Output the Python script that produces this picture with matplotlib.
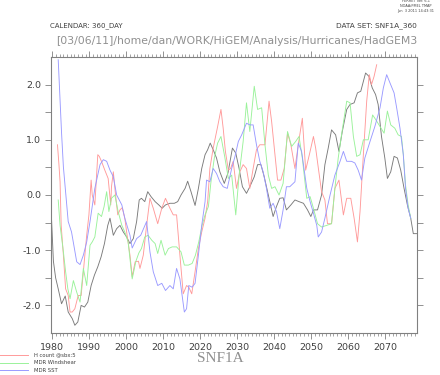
import numpy as np
import matplotlib
matplotlib.use("Agg")
import matplotlib.pyplot as plt

# values (year, index)
red_x = [1981.4, 1981.8, 1982.1, 1982.4, 1983.0, 1983.6, 1984.3, 1984.8, 1985.4, 1986.1,
         1987.0, 1987.8, 1988.4, 1988.8, 1989.3, 1989.9, 1990.5, 1990.8, 1991.5, 1992.3,
         1992.7, 1993.3, 1994.2, 1995.1, 1995.8, 1996.0, 1996.5, 1997.1, 1997.7, 1998.3,
         1998.9, 1999.6, 2000.1, 2001.0, 2001.6, 2002.4, 2003.3, 2003.7, 2004.6, 2005.5,
         2006.4, 2007.3, 2008.5, 2009.6, 2010.6, 2011.8, 2012.7, 2013.6, 2014.5, 2015.4,
         2016.3, 2016.9, 2017.7, 2018.6, 2019.5, 2020.4, 2021.3, 2022.0, 2022.6, 2023.5,
         2024.7, 2025.6, 2026.2, 2026.8, 2027.6, 2028.2, 2028.9, 2029.8, 2030.7, 2031.6,
         2032.5, 2033.4, 2034.3, 2035.2, 2036.1, 2037.5, 2038.6, 2039.3, 2040.2, 2040.9,
         2041.8, 2042.7, 2043.6, 2044.5, 2045.6, 2046.7, 2047.6, 2048.5, 2049.6, 2050.6,
         2051.2, 2051.9, 2052.8, 2053.7, 2054.4, 2055.5, 2056.4, 2057.5, 2058.7, 2059.6,
         2060.7, 2061.6, 2062.5, 2063.2, 2064.1, 2065.0, 2065.7, 2066.3, 2067.0, 2067.7]
red_y = [0.91, 0.55, 0.24, -0.55, -1.09, -1.70, -1.82, -2.12, -2.12, -2.06,
         -1.82, -1.82, -1.39, -1.09, -0.73, -0.36, 0.27, 0.00, -0.18, 0.73,
         0.70, 0.61, 0.45, 0.30, -0.18, 0.15, 0.42, 0.00, -0.36, -0.27,
         -0.23, -0.42, -0.67, -1.09, -1.48, -1.21, -1.20, -1.33, -1.09, -0.55,
         -0.06, -0.24, -0.52, -0.24, -0.06, -0.24, -0.36, -0.36, -1.09, -1.79,
         -1.64, -1.67, -1.79, -1.39, -0.97, -0.67, -0.42, -0.12, 0.48, 0.85,
         1.24, 1.55, 1.21, 0.79, 0.45, 0.48, 0.61, 0.12, 0.42, 0.55,
         0.48, 0.12, 0.48, 0.82, 0.91, 0.91, 1.70, 1.33, 0.73, 0.27,
         0.27, 0.48, 1.12, 0.91, 0.48, 1.00, 1.39, 0.45, 0.76, 1.06,
         0.85, 0.50, 0.06, -0.09, -0.52, -0.52, 0.12, 0.27, -0.36, -0.06,
         -0.06, -0.42, -0.85, -0.30, 0.73, 1.70, 2.18, 2.00, 2.15, 2.36]

green_x = [1981.6, 1982.1, 1983.0, 1983.6, 1984.2, 1984.8, 1985.7, 1986.6, 1987.5, 1988.4,
           1989.3, 1990.2, 1990.8, 1991.5, 1992.4, 1993.3, 1994.0, 1994.7, 1995.3, 1996.0,
           1996.9, 1997.8, 1998.8, 1999.6, 2000.5, 2001.6, 2002.6, 2003.4, 2004.1, 2005.0,
           2005.9, 2006.9, 2007.8, 2008.5, 2009.4, 2010.5, 2011.4, 2012.4, 2013.6, 2014.8,
           2015.7, 2016.8, 2017.8, 2018.7, 2019.6, 2020.5, 2021.3, 2022.2, 2022.9, 2023.8,
           2024.7, 2025.6, 2026.6, 2027.6, 2028.5, 2029.6, 2030.5, 2031.6, 2032.5, 2033.4,
           2034.6, 2035.5, 2036.6, 2037.5, 2038.4, 2039.3, 2040.2, 2041.3, 2042.4, 2043.6,
           2044.7, 2045.8, 2046.7, 2047.6, 2048.8, 2049.7, 2050.6, 2051.7, 2052.8, 2054.2,
           2055.5, 2056.4, 2057.3, 2058.2, 2059.6, 2060.5, 2061.4, 2062.3, 2063.2, 2064.1,
           2065.4, 2066.6, 2067.5, 2068.6, 2069.7, 2070.6, 2071.5, 2072.6, 2073.5, 2074.4,
           2074.9, 2075.5, 2076.2, 2076.9]
green_y = [-0.09, -0.55, -1.03, -1.39, -1.70, -1.88, -1.55, -1.76, -1.94, -1.33,
           -1.64, -0.91, -0.85, -0.76, -0.33, -0.39, -0.21, 0.06, -0.30, -0.06,
           0.00, -0.30, -0.55, -0.67, -0.85, -1.52, -1.20, -1.05, -0.97, -0.76,
           -0.73, -0.82, -0.88, -1.06, -0.82, -1.09, -0.97, -0.94, -0.94, -1.03,
           -1.27, -1.27, -1.24, -1.09, -0.85, -0.55, -0.36, -0.21, 0.24, 0.67,
           0.94, 1.06, 0.70, 0.30, 0.36, -0.36, 0.36, 0.97, 1.67, 1.15,
           1.97, 1.55, 1.58, 0.91, 0.36, 0.12, 0.15, 0.00, 0.21, 1.15,
           0.88, 0.97, 1.06, 0.67, -0.06, -0.03, -0.24, -0.52, -0.58, -0.55,
           -0.52, 0.12, 0.67, 1.09, 1.70, 1.67, 1.06, 0.70, 0.73, 1.00,
           1.00, 1.45, 1.36, 1.24, 1.12, 1.52, 1.27, 1.21, 1.09, 1.06,
           0.73, 0.18, -0.18, -0.42]

blue_x = [1981.6, 1982.5, 1983.0, 1984.3, 1985.2, 1986.6, 1987.5, 1988.4, 1989.3, 1990.2,
          1991.5, 1992.9, 1993.8, 1994.7, 1995.6, 1996.5, 1997.4, 1998.8, 1999.6, 2001.0,
          2001.6, 2002.8, 2003.9, 2005.5, 2006.4, 2007.3, 2008.5, 2009.6, 2010.6, 2011.8,
          2012.7, 2013.6, 2014.5, 2015.7, 2016.3, 2016.9, 2017.8, 2018.6, 2019.5, 2020.4,
          2021.3, 2021.7, 2022.6, 2023.5, 2024.4, 2025.3, 2026.2, 2027.3, 2028.5, 2029.4,
          2030.3, 2031.2, 2032.5, 2033.4, 2034.3, 2035.2, 2036.1, 2037.0, 2037.9, 2038.8,
          2039.7, 2040.6, 2041.5, 2042.4, 2043.3, 2044.2, 2045.6, 2046.5, 2047.4, 2048.8,
          2049.7, 2050.6, 2051.5, 2051.9, 2052.8, 2053.7, 2055.1, 2056.4, 2057.8, 2058.7,
          2059.6, 2060.9, 2061.8, 2062.7, 2063.6, 2064.5, 2065.9, 2067.2, 2068.6, 2069.5,
          2070.4, 2071.3, 2072.4, 2073.1, 2074.0, 2074.9, 2075.5, 2076.2, 2076.9]
blue_y = [2.45, 1.13, 0.51, -0.48, -0.67, -1.21, -1.26, -1.09, -0.85, -0.48,
          0.12, 0.55, 0.64, 0.61, 0.45, 0.33, 0.00, -0.18, -0.42, -0.73,
          -0.96, -0.79, -0.73, -0.48, -1.03, -1.39, -1.64, -1.60, -1.73, -1.64,
          -1.70, -1.33, -1.52, -2.12, -2.06, -1.64, -1.67, -1.60, -1.09, -0.55,
          -0.12, 0.27, 0.24, 0.48, 0.39, 0.24, 0.15, 0.12, 0.48, 0.70,
          0.97, 1.09, 1.30, 1.27, 1.27, 0.91, 0.61, 0.42, 0.12, -0.24,
          -0.15, -0.30, -0.61, -0.27, 0.15, 0.15, 0.24, 0.94, 0.79, 0.12,
          -0.12, -0.33, -0.55, -0.76, -0.67, -0.42, 0.00, 0.36, 0.61, 0.79,
          0.61, 0.61, 0.58, 0.45, 0.27, 0.67, 0.97, 1.24, 1.58, 1.94,
          2.18, 2.03, 1.85, 1.58, 1.21, 0.73, 0.12, -0.24, -0.42]

black_x = [1979.7, 1980.3, 1980.9, 1981.6, 1982.5, 1983.5, 1984.3, 1985.4, 1986.1, 1986.9,
           1987.8, 1988.7, 1989.6, 1990.5, 1991.4, 1992.3, 1993.2, 1994.1, 1995.0, 1995.6,
           1996.5, 1997.4, 1998.3, 1999.2, 2000.1, 2001.0, 2001.9, 2002.8, 2003.5, 2004.1,
           2005.0, 2005.8, 2006.7, 2007.8, 2008.8, 2009.7, 2010.6, 2011.8, 2013.0, 2013.9,
           2014.8, 2015.9, 2016.6, 2017.5, 2018.6, 2019.5, 2020.4, 2021.3, 2022.0, 2022.7,
           2023.5, 2024.4, 2025.3, 2026.5, 2027.5, 2028.7, 2029.6, 2030.5, 2031.4, 2032.5,
           2033.4, 2034.6, 2035.5, 2036.4, 2037.3, 2038.2, 2039.1, 2039.7, 2040.6, 2041.5,
           2042.4, 2043.3, 2044.5, 2045.6, 2046.7, 2047.9, 2049.0, 2049.9, 2050.6, 2051.7,
           2052.8, 2053.7, 2054.6, 2055.5, 2056.6, 2057.5, 2058.4, 2059.6, 2060.5, 2061.6,
           2062.5, 2063.4, 2064.7, 2065.6, 2066.5, 2067.4, 2068.1, 2069.0, 2069.9, 2070.6,
           2071.5, 2072.4, 2073.3, 2074.2, 2075.1, 2076.0, 2076.9, 2077.6, 2078.5]
black_y = [-0.30, -1.20, -1.50, -1.70, -1.97, -1.83, -2.12, -2.24, -2.36, -2.30,
           -2.00, -2.03, -1.94, -1.64, -1.45, -1.30, -1.12, -0.88, -0.55, -0.42,
           -0.73, -0.61, -0.55, -0.67, -0.76, -0.88, -0.79, -0.48, -0.09, -0.06,
           -0.12, 0.06, -0.03, -0.12, -0.18, -0.24, -0.18, -0.15, -0.15, -0.12,
           0.00, 0.12, 0.25, 0.06, -0.19, 0.12, 0.48, 0.73, 0.82, 0.94,
           0.82, 0.67, 0.42, 0.21, 0.40, 0.85, 0.76, 0.48, 0.15, 0.03,
           0.15, 0.33, 0.55, 0.55, 0.33, 0.06, -0.21, -0.39, -0.21, -0.06,
           -0.05, -0.27, -0.18, -0.09, -0.12, -0.15, -0.27, -0.39, -0.27, -0.27,
           0.00, 0.55, 0.85, 1.18, 1.09, 0.79, 1.15, 1.55, 1.64, 1.67,
           1.85, 1.88, 2.21, 2.15, 1.94, 1.82, 1.64, 1.06, 0.67, 0.30,
           0.42, 0.70, 0.67, 0.45, 0.12, -0.18, -0.42, -0.70, -0.70]

legend_labels = ["H count @sbx:5", "MDR Windshear", "MDR SST"]

c_red = '#ff9a9a'
c_green = '#9af29a'
c_blue = '#9a9aff'
c_black = '#7a7a7a'
c_axis = '#808080'

fig = plt.figure(figsize=(4.4, 3.75), dpi=100)
ax = fig.add_axes([51/440, 1-333/375, 366/440, 276/375])

ax.plot(black_x, black_y, color=c_black, lw=0.65)
ax.plot(red_x, red_y, color=c_red, lw=0.65)
ax.plot(green_x, green_y, color=c_green, lw=0.65)
ax.plot(blue_x, blue_y, color=c_blue, lw=0.65)

ax.set_xlim(1979.65, 2078.6)
ax.set_ylim(-2.5, 2.5)

ax.set_xticks(np.arange(1980, 2071, 10))
ax.set_xticks(np.arange(1980, 2079, 1), minor=True)
yt = np.arange(-2.0, 2.01, 0.5)
ax.set_yticks(yt)
ax.set_yticklabels(["%.1f" % v if abs(v - round(v)) < 1e-6 else "" for v in yt])

for s in ax.spines.values():
    s.set_color(c_axis)
    s.set_linewidth(0.8)
ax.tick_params(axis='both', which='major', direction='out', length=4, width=0.6,
               color=c_axis, labelsize=6.8, labelcolor='#404040', pad=3,
               top=True, right=True)
ax.tick_params(axis='x', which='minor', direction='out', length=2, width=0.5,
               color=c_axis, top=True)
ax.tick_params(axis='y', which='minor', left=False, right=False)

# header texts
fig.text(50/440, 1-26/375, "CALENDAR: 360_DAY", fontsize=5, color='#404040', va='center')
fig.text(417/440, 1-26/375, "DATA SET: SNF1A_360", fontsize=5.3, color='#404040',
         va='center', ha='right')
fig.text(417/440, 1-41/375, "[03/06/11]/home/dan/WORK/HiGEM/Analysis/Hurricanes/HadGEM3",
         fontsize=7.8, color='#909090', va='center', ha='right')
fig.text(416/440, 1-6/375, "FERRET Ver. 6.1\nNOAA/PMEL TMAP\nJun  3 2011 14:43:31",
         fontsize=2.5, color='#404040', va='center', ha='center', linespacing=1.2)

# title
fig.text(220/440, 1-359/375, "SNF1A", fontsize=11, color='#909090', ha='center',
         va='center', family='Liberation Serif')

# legend
leg_y = [355, 362.5, 370]
for lab, col, yy in zip(legend_labels, [c_red, c_green, c_blue], leg_y):
    fig.add_artist(plt.Line2D([0, 28/440], [1-yy/375, 1-yy/375], color=col, lw=0.7))
    fig.text(34/440, 1-yy/375, lab, fontsize=3.8, color='#404040', va='center')

plt.savefig("out.png", dpi=100)
